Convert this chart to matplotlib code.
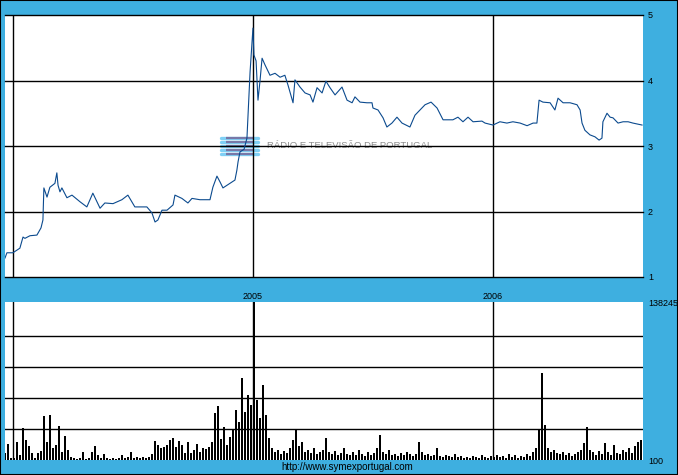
import numpy as np
import matplotlib.pyplot as plt
from matplotlib.patches import Rectangle

plt.rcParams['font.family'] = ['Liberation Sans', 'DejaVu Sans']

azul = '#3eafe0'
azul_linea = '#0b4a8e'

# cotizacion (fecha en año decimal, precio en EUR)
t_precio = [2003.967, 2003.975, 2004.000, 2004.017, 2004.029, 2004.042, 2004.050, 2004.071,
            2004.100, 2004.117, 2004.125, 2004.129, 2004.142, 2004.154, 2004.175, 2004.183,
            2004.188, 2004.196, 2004.204, 2004.225, 2004.246, 2004.279, 2004.308, 2004.333,
            2004.363, 2004.383, 2004.417, 2004.454, 2004.479, 2004.508, 2004.558, 2004.579,
            2004.592, 2004.604, 2004.621, 2004.642, 2004.667, 2004.675, 2004.704, 2004.729,
            2004.746, 2004.779, 2004.821, 2004.833, 2004.850, 2004.863, 2004.875, 2004.904,
            2004.925, 2004.933, 2004.938, 2004.946, 2004.963, 2004.975, 2004.979, 2004.988,
            2004.996, 2005.000, 2005.004, 2005.013, 2005.021, 2005.029, 2005.038, 2005.050,
            2005.071, 2005.092, 2005.113, 2005.133, 2005.146, 2005.167, 2005.175, 2005.196,
            2005.217, 2005.238, 2005.250, 2005.267, 2005.288, 2005.304, 2005.321, 2005.342,
            2005.371, 2005.392, 2005.413, 2005.425, 2005.446, 2005.475, 2005.496, 2005.500,
            2005.521, 2005.542, 2005.558, 2005.579, 2005.600, 2005.621, 2005.654, 2005.675,
            2005.688, 2005.717, 2005.742, 2005.767, 2005.792, 2005.833, 2005.854, 2005.875,
            2005.896, 2005.917, 2005.954, 2005.967, 2006.000, 2006.029, 2006.058, 2006.083,
            2006.113, 2006.142, 2006.167, 2006.183, 2006.192, 2006.208, 2006.238, 2006.258,
            2006.271, 2006.292, 2006.321, 2006.350, 2006.363, 2006.371, 2006.383, 2006.404,
            2006.425, 2006.442, 2006.454, 2006.458, 2006.475, 2006.488, 2006.500, 2006.521,
            2006.542, 2006.563, 2006.583, 2006.621]
precio = [1.29, 1.37, 1.37, 1.41, 1.44, 1.61, 1.59, 1.63,
          1.64, 1.75, 1.87, 2.36, 2.22, 2.37, 2.43, 2.59,
          2.40, 2.30, 2.36, 2.21, 2.25, 2.15, 2.07, 2.28,
          2.05, 2.13, 2.12, 2.18, 2.25, 2.07, 2.07, 1.98,
          1.84, 1.87, 2.02, 2.02, 2.10, 2.25, 2.20, 2.13,
          2.20, 2.18, 2.18, 2.37, 2.54, 2.45, 2.36, 2.43,
          2.48, 2.63, 2.76, 2.91, 2.95, 3.12, 3.43, 4.13,
          4.59, 4.80, 4.39, 4.30, 3.70, 3.98, 4.34, 4.24,
          4.08, 4.11, 4.05, 4.08, 3.93, 3.66, 4.01, 3.90,
          3.81, 3.78, 3.67, 3.89, 3.81, 3.99, 3.89, 3.78,
          3.90, 3.70, 3.66, 3.75, 3.67, 3.66, 3.66, 3.58,
          3.55, 3.43, 3.29, 3.35, 3.44, 3.35, 3.29, 3.47,
          3.52, 3.63, 3.67, 3.58, 3.40, 3.40, 3.44, 3.37,
          3.44, 3.37, 3.38, 3.35, 3.32, 3.37, 3.35, 3.37,
          3.35, 3.31, 3.35, 3.35, 3.70, 3.67, 3.66, 3.55,
          3.73, 3.66, 3.66, 3.63, 3.55, 3.35, 3.24, 3.17,
          3.14, 3.09, 3.12, 3.37, 3.50, 3.44, 3.43, 3.35,
          3.37, 3.37, 3.35, 3.32]

# volumen (miles de acciones), una barra cada ~3 dias habiles
vol_t0 = 2003.967
vol_paso = 0.0125
vol = [6.1, 14.0, 1.8, 1.8, 15.8, 4.4, 28.0, 17.5, 12.3, 6.1,
       1.8, 6.1, 7.9, 38.5, 15.8, 39.4, 10.5, 13.1, 29.8, 7.0,
       21.0, 8.8, 2.6, 1.8, 0.9, 1.8, 7.0, 0.9, 1.8, 7.0,
       12.3, 4.4, 1.8, 5.3, 1.8, 0.9, 1.8, 0.9, 1.8, 4.4,
       1.8, 2.6, 7.0, 1.8, 2.6, 1.8, 2.6, 1.8, 2.6, 5.3,
       16.6, 13.1, 10.5, 11.4, 13.1, 17.5, 19.3, 11.4, 16.6, 13.1,
       6.1, 15.8, 6.1, 8.8, 14.0, 7.0, 10.5, 9.6, 11.4, 15.8,
       41.1, 47.3, 18.4, 28.9, 13.1, 20.1, 26.3, 43.8, 33.3, 71.8,
       42.0, 56.9, 48.1, 138.2, 52.5, 36.8, 65.6, 39.4, 19.3, 10.5,
       7.0, 8.8, 5.3, 7.9, 6.1, 10.5, 17.5, 26.3, 12.3, 15.8,
       7.0, 8.8, 6.1, 10.5, 5.3, 7.0, 8.8, 19.3, 7.0, 5.3,
       7.9, 4.4, 6.1, 10.5, 5.3, 4.4, 7.0, 4.4, 8.8, 5.3,
       3.5, 7.0, 4.4, 6.1, 10.5, 21.9, 7.0, 5.3, 8.8, 4.4,
       5.3, 3.5, 6.1, 4.4, 7.0, 5.3, 3.5, 5.3, 15.8, 7.0,
       4.4, 5.3, 3.5, 4.4, 10.5, 3.5, 2.6, 4.4, 3.5, 2.6,
       5.3, 2.6, 3.5, 1.8, 2.6, 1.8, 3.5, 2.6, 1.8, 4.4,
       2.6, 1.8, 3.5, 2.6, 4.4, 2.6, 3.5, 1.8, 5.3, 2.6,
       4.4, 1.8, 3.5, 2.6, 5.3, 3.5, 7.0, 10.5, 26.3, 76.1,
       30.6, 10.5, 7.0, 8.8, 6.1, 5.3, 7.0, 4.4, 6.1, 3.5,
       5.3, 7.0, 8.8, 14.9, 28.9, 8.8, 7.0, 4.4, 7.9, 5.3,
       14.9, 7.0, 4.4, 13.1, 6.1, 5.3, 8.8, 7.0, 10.5, 6.1,
       12.3, 15.8, 17.5]
t_vol = vol_t0 + vol_paso * np.arange(len(vol))

anios = [2004, 2005, 2006]
etiquetas_anios = ['', '2005', '2006']
niveles_precio = [1, 2, 3, 4, 5]
vol_max = 138.245
vol_grid = 27.1
t_min, t_max = 2003.967, 2006.625

fig = plt.figure(figsize=(6.78, 4.75), dpi=100, facecolor=azul)
ax1 = fig.add_axes([5 / 678, 1 - 277 / 475, 638 / 678, 262 / 475])
ax2 = fig.add_axes([5 / 678, 1 - 460 / 475, 638 / 678, 158 / 475])

# PRECIO
ax1.plot(t_precio, precio, color=azul_linea, lw=0.8, zorder=4)
ax1.set_xlim(t_min, t_max)
ax1.set_ylim(1, 5)
for s in ax1.spines.values():
    s.set_visible(False)
for n in niveles_precio:
    ax1.axhline(n, color='k', lw=1, clip_on=False, zorder=2)
for a in anios:
    ax1.axvline(a, color='k', lw=1, zorder=2)
ax1.yaxis.tick_right()
ax1.set_yticks(niveles_precio)
ax1.tick_params(axis='y', length=0, pad=3.6, labelsize=6.5)
ax1.set_xticks(anios, etiquetas_anios)
ax1.tick_params(axis='x', length=0, pad=10.5, labelsize=6.5)

# marca de agua RTP
for yy in [0.531, 0.515, 0.500, 0.485, 0.469]:
    ax1.plot([0.339, 0.396], [yy, yy], transform=ax1.transAxes, color='#7fd0f5',
             lw=2.4, solid_capstyle='round', zorder=1)
    ax1.plot([0.347, 0.388], [yy, yy], transform=ax1.transAxes, color='#7878a8',
             lw=1.6, solid_capstyle='butt', zorder=1)
ax1.text(0.411, 0.5, 'RÁDIO E TELEVISÃO DE PORTUGAL', transform=ax1.transAxes,
         fontsize=6.8, color='#8c8c8c', ha='left', va='center', zorder=1)

# VOLUMEN
ax2.bar(t_vol, vol, width=0.0108, color='k', linewidth=0, zorder=3)
ax2.set_xlim(t_min, t_max)
ax2.set_ylim(0, vol_max)
for s in ax2.spines.values():
    s.set_visible(False)
for k in range(1, 5):
    ax2.axhline(k * vol_grid, color='k', lw=1, zorder=2)
for a in anios:
    ax2.axvline(a, color='k', lw=1, zorder=2)
ax2.set_xticks([])
ax2.yaxis.tick_right()
ax2.set_yticks([0, vol_max], ['100', '138245'])
ax2.tick_params(axis='y', length=0, pad=3.6, labelsize=6.5)

fig.text(347 / 678, 1 - 467 / 475, 'http://www.symexportugal.com', ha='center',
         va='center', fontsize=7)
fig.patches.append(Rectangle((0, 0), 1, 1, transform=fig.transFigure, fill=False,
                             ec='k', lw=1.5))

fig.savefig('out.png', dpi=100, facecolor=azul)
